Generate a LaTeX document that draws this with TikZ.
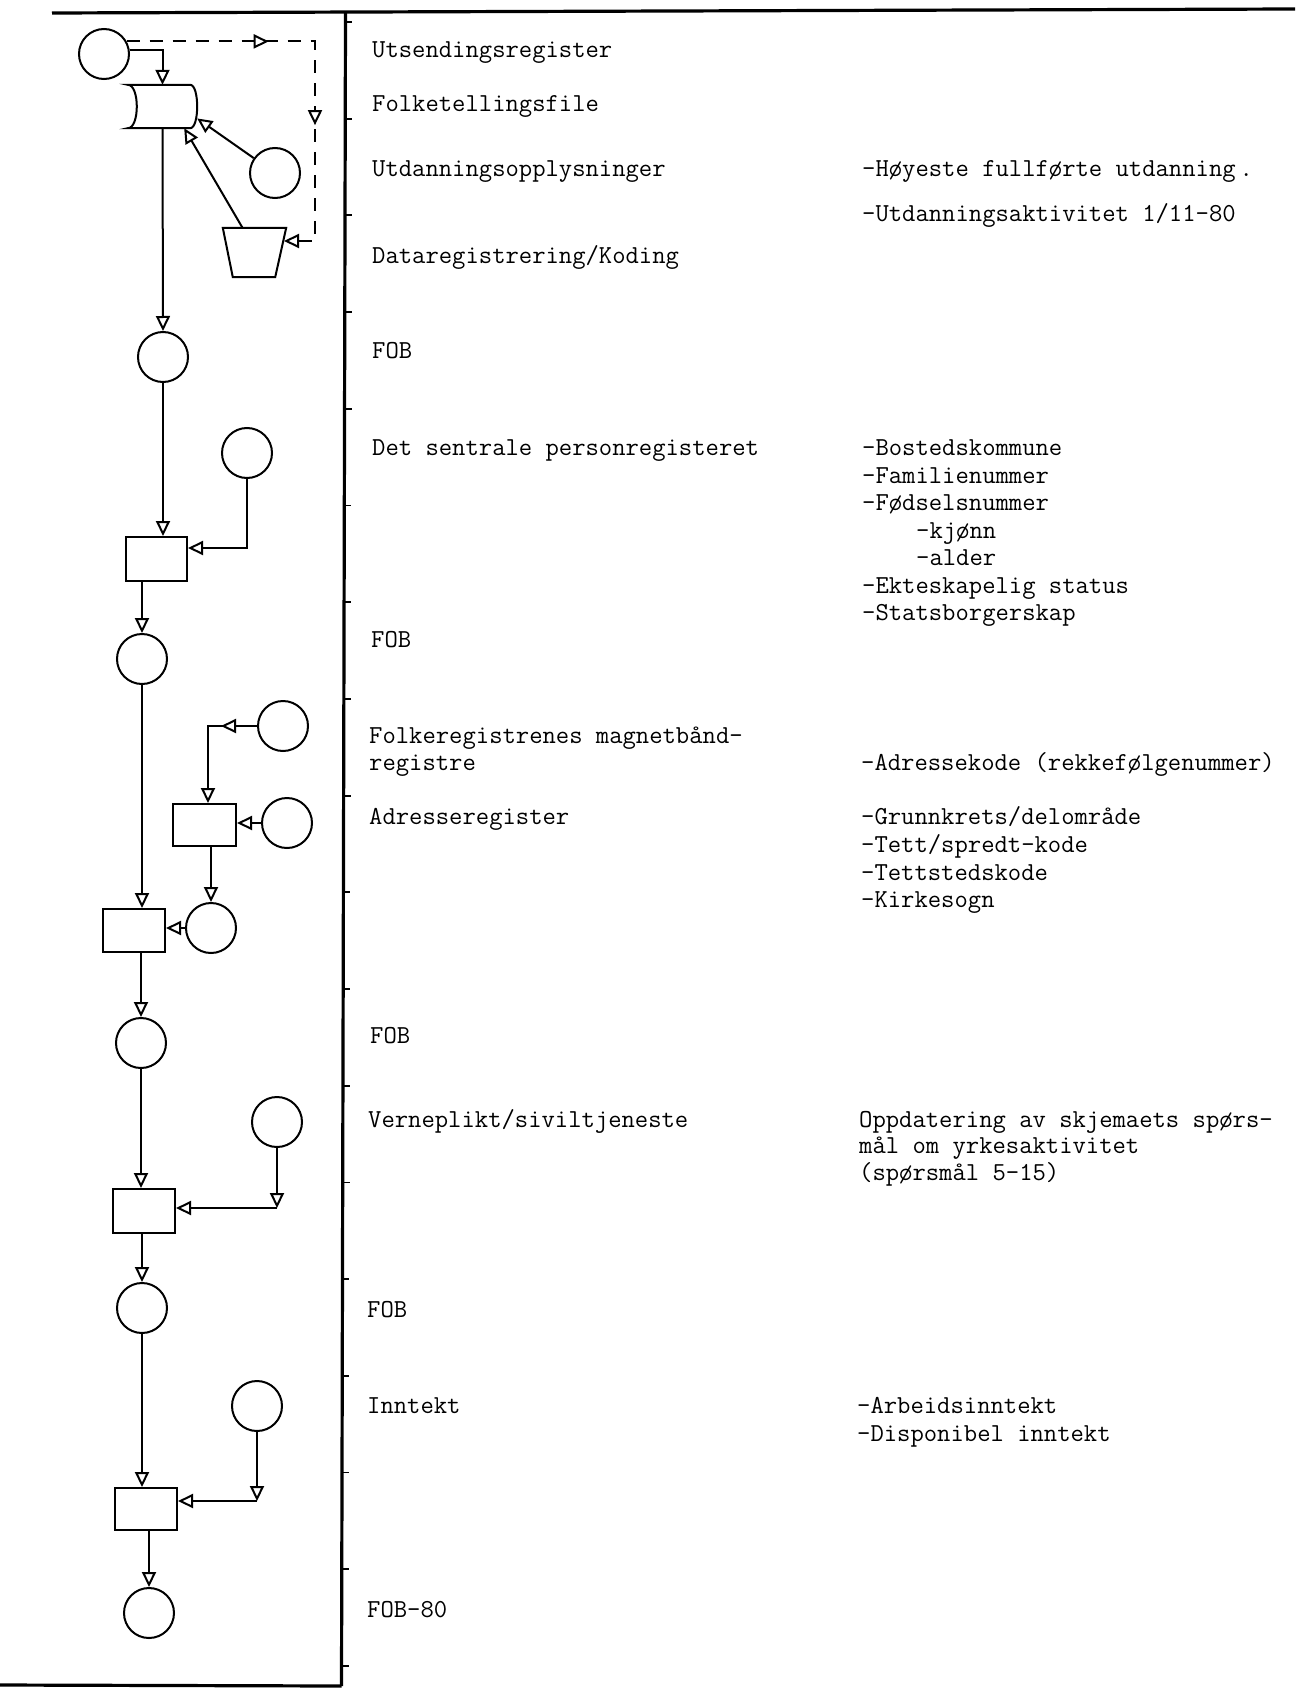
\documentclass[tikz,border=0pt]{standalone}
\usetikzlibrary{arrows.meta,decorations.markings}
\tikzset{
  otri/.tip={Triangle[open,length=15pt,width=14pt]},
  otrif/.tip={Triangle[fill=white,length=15pt,width=14pt]},
  ln/.style={line width=2pt},
  arr/.style={ln,-{otri}},
  circ/.style={circle,draw,line width=2pt,minimum size=50pt,inner sep=0pt},
  boxn/.style={rectangle,draw,line width=2pt,inner sep=0pt,minimum width=62pt,minimum height=43pt},
  hid/.style={rectangle,inner sep=0pt},
  frame/.style={line width=3.2pt},
  tickmark/.style={line width=1.8pt},
  txt/.style={anchor=base west,inner sep=0pt,font=\fontsize{25.9}{27.5}\selectfont\ttfamily},
}
\begin{document}
\begin{tikzpicture}[x=1pt,y=-1pt]
\useasboundingbox (0,0) rectangle (1297,1688);
% frame
\coordinate (fa) at (52,13);
\coordinate (fb) at (1295,9);
\coordinate (fc) at (345.5,12);
\coordinate (fd) at (341.5,1686);
\coordinate (fe) at (0,1685);
\draw[frame] (fa) -- (fb);
\draw[frame] (fc) -- (fd);
\draw[frame] (fe) -- (fd);
\foreach \k in {0,...,17}{
  \pgfmathsetmacro\ty{22+96.7*\k}
  \pgfmathsetmacro\tx{345.5-4*(\ty-12)/1674}
  \draw[tickmark] (\tx,\ty) -- ++(7,0);
}
% nodes
\node[circ] (C1) at (104,54) {};
\node[circ] (C2) at (275,173) {};
\node[circ] (C3) at (163,357) {};
\node[circ] (C4) at (247,453) {};
\node[circ] (C5) at (142,659) {};
\node[circ] (C6) at (283,726) {};
\node[circ] (C7) at (287,823) {};
\node[circ] (C8) at (211,928) {};
\node[circ] (C9) at (141,1043) {};
\node[circ] (C10) at (277,1122) {};
\node[circ] (C11) at (142,1308) {};
\node[circ] (C12) at (257,1406) {};
\node[circ] (C13) at (149,1613) {};
\node[boxn,minimum width=61pt,minimum height=44pt] (B1) at (156.5,559) {};
\node[boxn,minimum width=63pt,minimum height=42pt] (B2) at (204.5,825) {};
\node[boxn] (B3) at (134,930.5) {};
\node[boxn,minimum height=44pt] (B4) at (144,1211) {};
\node[boxn,minimum height=42pt] (B5) at (146,1509) {};
% drum (file) and trapezium
\node[hid,minimum width=69pt,minimum height=43pt] (D) at (162.5,106.5) {};
\draw[ln] (D.north west) -- ([xshift=-7pt]D.north east)
  .. controls ([xshift=2.3pt]D.north east) and ([xshift=2.3pt]D.south east) .. ([xshift=-7pt]D.south east)
  -- (D.south west)
  .. controls ([xshift=12pt]D.south west) and ([xshift=12pt]D.north west) .. (D.north west) -- cycle;
\node[hid,minimum width=63pt,minimum height=49pt] (T) at (254.5,252.5) {};
\draw[ln] (T.north west) -- (T.north east) -- ([xshift=-11pt]T.south east) -- ([xshift=10pt]T.south west) -- cycle;
% connectors top section
\draw[arr] (C1.9) -| (D.north);
\coordinate (dB) at (315,241);
\coordinate (Tin) at (284,241);
\draw[ln,dash pattern=on 13pt off 10pt,-{otri},
  postaction={decorate},
  decoration={markings,
    mark=at position 142pt with {\arrow[solid]{otrif}},
    mark=at position 272pt with {\arrow[solid]{otrif}}}]
  (C1.29) -| (dB) -- (Tin);
\draw[arr] (C2) -- (D.-19);
\draw[arr] ([xshift=-12pt]T.north) -- (D.-45);
\draw[arr] (D.south) -- (C3.north);
% section 2
\draw[arr] (C3.south) -- (C3.south |- B1.north);
\coordinate (j1) at (247,548);
\draw[arr] (C4.south) -- (j1) -- (j1 -| B1.east);
\draw[arr] (B1.south -| C5.north) -- (C5.north);
% section 3
\draw[arr] (C5.south) -- (C5.south |- B3.north);
\coordinate (j2) at (208,726);
\draw[arr,postaction={decorate},
  decoration={markings,mark=at position 36pt with {\arrow{otrif}}}]
  (C6.west) -- (j2) -- (j2 |- B2.north);
\draw[arr] (C7.west) -- (C7.west -| B2.east);
\draw[arr] (B2.south -| C8.north) -- (C8.north);
\draw[arr] (C8.west) -- (C8.west -| B3.east);
\draw[arr] (B3.south -| C9.north) -- (C9.north);
% section 4
\draw[arr] (C9.south) -- (C9.south |- B4.north);
\coordinate (j3) at (277,1208);
\draw[arr] (C10.south) -- (j3);
\draw[arr] (j3) -- (j3 -| B4.east);
\draw[arr] (B4.south -| C11.north) -- (C11.north);
% section 5
\draw[arr] (C11.south) -- (C11.south |- B5.north);
\coordinate (j4) at (257,1501);
\draw[arr] (C12.south) -- (j4);
\draw[arr] (j4) -- (j4 -| B5.east);
\draw[arr] (B5.south -| C13.north) -- (C13.north);
% left texts
\node[txt] (t1) at (372,58) {Utsendingsregister};
\node[txt] (t2) at (372,112) {Folketellingsfile};
\node[txt] (t3) at (372,177) {Utdanningsopplysninger};
\node[txt] (t4) at (372,263) {Dataregistrering/Koding};
\node[txt] (t5) at (372,358) {FOB};
\node[txt] (t6) at (372,455) {Det sentrale personregisteret};
\node[txt] (t7) at (371,647) {FOB};
\node[txt] (t8) at (369,743) {Folkeregistrenes magnetbånd-};
\node[txt] (t9) at (369,770) {registre};
\node[txt] (t10) at (369,824) {Adresseregister};
\node[txt] (t11) at (370,1043) {FOB};
\node[txt] (t12) at (368,1127) {Verneplikt/siviltjeneste};
\node[txt] (t13) at (367,1317) {FOB};
\node[txt] (t14) at (367,1413) {Inntekt};
\node[txt] (t15) at (367,1617) {FOB-80};
% right texts
\node[txt] (r1) at (862,177) {-Høyeste fullførte utdanning\kern4pt.};
\node[txt] (r2) at (862,222) {-Utdanningsaktivitet 1/11-80};
\node[txt] (r3) at (862,455) {-Bostedskommune};
\node[txt] (r4) at (862,483) {-Familienummer};
\node[txt] (r5) at (862,510) {-Fødselsnummer};
\node[txt] (r6) at (916,538) {-kjønn};
\node[txt] (r7) at (916,565) {-alder};
\node[txt] (r8) at (862,593) {-Ekteskapelig status};
\node[txt] (r9) at (862,620) {-Statsborgerskap};
\node[txt] (r10) at (861,770) {-Adressekode (rekkefølgenummer)};
\node[txt] (r11) at (861,824) {-Grunnkrets/delområde};
\node[txt] (r12) at (861,852) {-Tett/spredt-kode};
\node[txt] (r13) at (861,880) {-Tettstedskode};
\node[txt] (r14) at (861,907) {-Kirkesogn};
\node[txt] (r15) at (859,1127) {Oppdatering av skjemaets spørs-};
\node[txt] (r16) at (859,1153) {mål om yrkesaktivitet};
\node[txt] (r17) at (859,1180) {(spørsmål 5-15)};
\node[txt] (r18) at (857,1413) {-Arbeidsinntekt};
\node[txt] (r19) at (857,1441) {-Disponibel inntekt};
\end{tikzpicture}
\end{document}
